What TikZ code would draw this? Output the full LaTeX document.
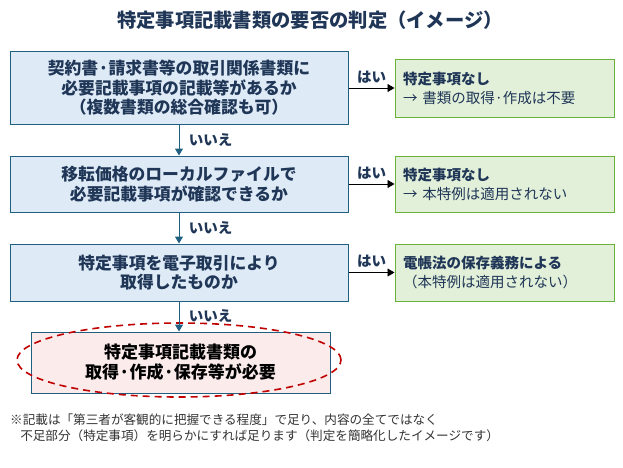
\documentclass[tikz,border=0pt]{standalone}
\usepackage{fontspec}
\setmainfont{Noto Sans CJK JP}
\usepackage{xcolor}
\usetikzlibrary{arrows.meta}
\definecolor{qline}{HTML}{215F80}
\definecolor{qfill}{HTML}{DEEAF6}
\definecolor{qtext}{HTML}{1F3657}
\definecolor{aline}{HTML}{6AB23C}
\definecolor{afill}{HTML}{E2F0D9}
\definecolor{rfill}{HTML}{FBEBEB}
\definecolor{rmark}{HTML}{C00000}
\tikzset{
	question/.style={draw=qline, fill=qfill, line width=1pt, minimum width=338pt,
			align=center, text=qtext, font=\fontsize{16.8}{19.5}\selectfont\bfseries},
	answer/.style={draw=aline, fill=afill, line width=1pt, minimum width=219pt,
			text width=203pt, inner xsep=8pt, align=left, text=qtext,
			font=\fontsize{14.5}{19}\selectfont},
	yes/.style={-{Triangle[width=8pt,length=7pt]}, line width=0.8pt, black},
	no/.style={-{Triangle[width=8pt,length=7pt]}, line width=1pt, qline},
	lbl/.style={text=qtext, font=\fontsize{14.5}{16}\selectfont\bfseries}
}
\begin{document}
\begin{tikzpicture}[x=1pt, y=-1pt]
	\useasboundingbox (0,0) rectangle (623,467);

	% Draw the title
	\node[text=qtext, font=\fontsize{19.3}{22}\selectfont\bfseries] (title) at (310,20)
		{特定事項記載書類の要否の判定（イメージ）};

	% Draw the questions
	\node[question, minimum height=73pt] (q1) at (179,88)
		{契約書·請求書等の取引関係書類に\\必要記載事項の記載等があるか\\（複数書類の総合確認も可）};
	\node[question, minimum height=56pt] (q2) at (179,184)
		{移転価格のローカルファイルで\\必要記載事項が確認できるか};
	\node[question, minimum height=57pt] (q3) at (179,272.5)
		{特定事項を電子取引により\\取得したものか};

	% Draw the answers
	\node[answer, minimum height=58pt] (a1) at (504.5,88)
		{\textbf{特定事項なし}\\→ 書類の取得·作成は不要};
	\node[answer, minimum height=56pt] (a2) at (504.5,184)
		{\textbf{特定事項なし}\\→ 本特例は適用されない};
	\node[answer, minimum height=57pt] (a3) at (504.5,272.5)
		{\textbf{電帳法の保存義務による}\\（本特例は適用されない）};

	% Draw the result and its mark
	\node[draw=qline, fill=rfill, line width=1pt, minimum width=299pt, minimum height=61pt,
		align=center, text=black, font=\fontsize{17}{20}\selectfont\bfseries] (res) at (180.5,362.5)
		{特定事項記載書類の\\取得·作成·保存等が必要};
	\draw[rmark, line width=1.6pt, dash pattern=on 7pt off 5pt] (179,360) ellipse (162pt and 37pt);

	% Draw the arrows
	\draw[yes] (q1.east) -- (a1.west) node[lbl, midway, above=1pt] {はい};
	\draw[yes] (q2.east) -- (a2.west) node[lbl, midway, above=1pt] {はい};
	\draw[yes] (q3.east) -- (a3.west) node[lbl, midway, above=1pt] {はい};
	\draw[no] (q1.south) -- (q2.north) node[lbl, midway, right=6pt] {いいえ};
	\draw[no] (q2.south) -- (q3.north) node[lbl, midway, right=6pt] {いいえ};
	\draw[no] (q3.south) -- (q3.south |- res.north) node[lbl, midway, right=6pt] {いいえ};

	% Draw the note
	\node[anchor=north west, align=left, inner sep=0pt, text=black!80,
		font=\fontsize{12.6}{16}\selectfont] (note) at (10,414)
		{※記載は「第三者が客観的に把握できる程度」で足り、内容の全てではなく\\
		\hspace{0.8em}不足部分（特定事項）を明らかにすれば足ります（判定を簡略化したイメージです）};
\end{tikzpicture}
\end{document}
